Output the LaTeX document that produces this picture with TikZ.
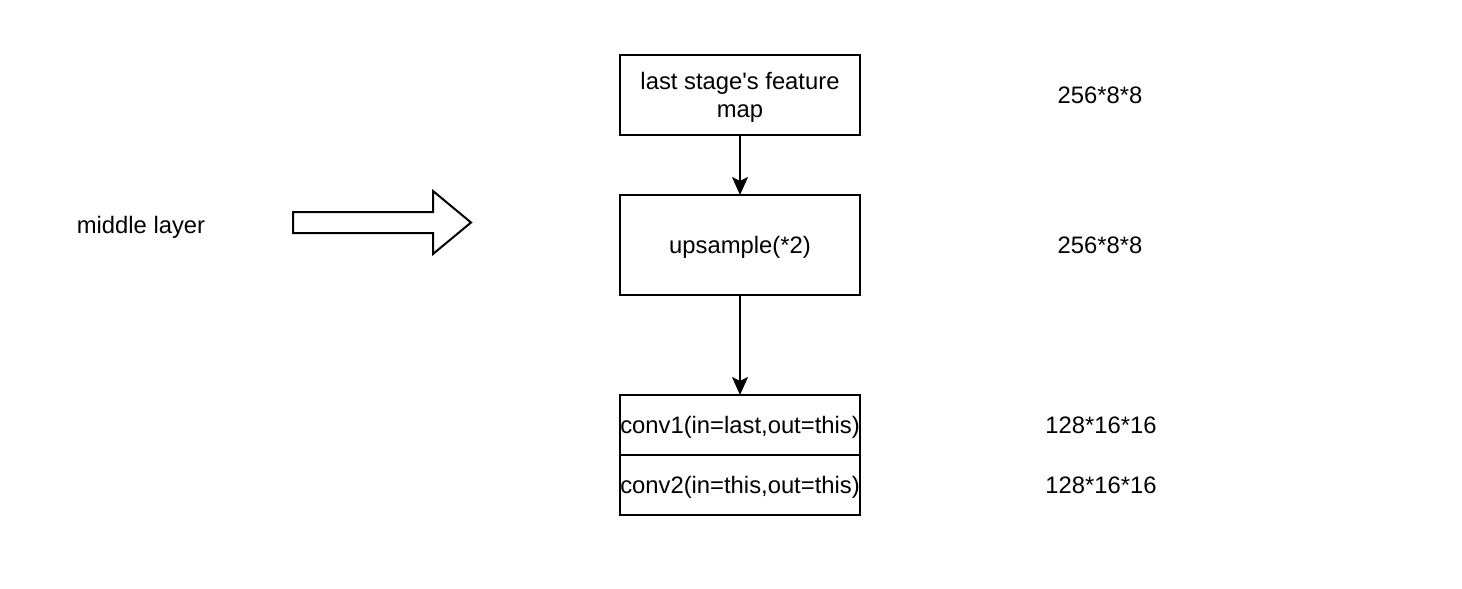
\documentclass[tikz,border=0pt]{standalone}
\usepackage{fontspec}
\setmainfont{Liberation Sans}[Ligatures=TeXOff]
\usepackage{tikz}
\usetikzlibrary{arrows.meta,positioning}

\begin{document}
\begin{tikzpicture}[x=1pt, y=-1pt,
every node/.style={font=\fontsize{23.8}{28}\selectfont, outer sep=0pt},
line/.style={text height=17pt, text depth=1pt},
box/.style={draw, line width=2pt, minimum width=240pt, align=center, inner xsep=0pt},
dim/.style={line, align=center},
arrow/.style={-{Stealth[length=18pt, width=16pt, inset=4pt]}, line width=2pt}
]
\useasboundingbox (0,0) rectangle (1462,589);

\node[box, minimum height=80pt] (feat) at (740,95) {\rule{0pt}{21.5pt}last stage's feature\\map};
\node[box, line, minimum height=100pt, below=60pt of feat] (up) {upsample(*2)};
\node[box, line, minimum height=60pt, below=100pt of up] (conv1) {conv1(in=last,out=this)};
\node[box, line, minimum height=60pt, below=0pt of conv1] (conv2) {conv2(in=this,out=this)};

\coordinate (col) at (1100,0);
\node[dim] (sfeat) at (feat -| col) {256*8*8};
\node[dim] (sup) at (up -| col) {256*8*8};
\node[dim] (sconv1) at ([xshift=1pt]conv1 -| col) {128*16*16};
\node[dim] (sconv2) at ([xshift=1pt]conv2 -| col) {128*16*16};

\node[line] (mid) at (141,225) {middle layer};

% block arrow
\coordinate (tail) at (293,222.5);
\draw[line width=2pt, line join=miter] ([yshift=-10.5pt]tail) -- ++(140,0) -- ++(0,21)
  -- ++(38,-31.5) -- ++(-38,-31.5) -- ++(0,21) -- ++(-140,0) -- cycle;

\draw[arrow] (feat) -- (up);
\draw[arrow] (up) -- (conv1);
\end{tikzpicture}
\end{document}
